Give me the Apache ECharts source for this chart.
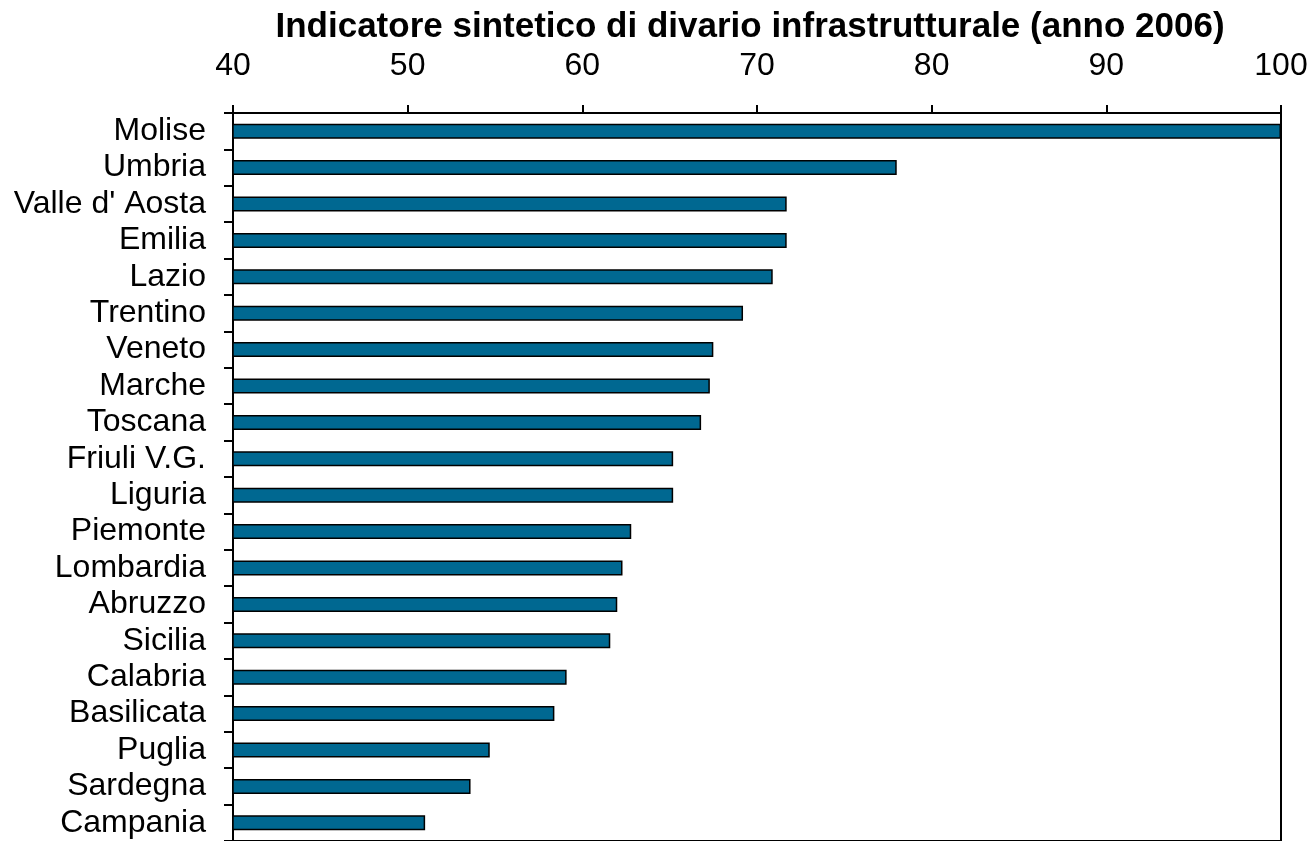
<!DOCTYPE html>
<html>
<head>
<meta charset="utf-8">
<script src="https://cdn.jsdelivr.net/npm/echarts@6/dist/echarts.min.js"></script>
<style>
  html, body { margin: 0; padding: 0; background: #ffffff; }
  #chart { width: 1314px; height: 841px; }
</style>
</head>
<body>
<div id="chart"></div>
<script>
// Regions, ordered from the highest to the lowest indicator value
const regions = [
  'Molise', 'Umbria', "Valle d' Aosta", 'Emilia', 'Lazio', 'Trentino', 'Veneto',
  'Marche', 'Toscana', 'Friuli V.G.', 'Liguria', 'Piemonte', 'Lombardia',
  'Abruzzo', 'Sicilia', 'Calabria', 'Basilicata', 'Puglia', 'Sardegna', 'Campania'
];

// Synthetic infrastructure gap indicator, year 2006
const indicator = [
  100.0, 78.0, 71.7, 71.7, 70.9, 69.2, 67.5,
  67.3, 66.8, 65.2, 65.2, 62.8, 62.3,
  62.0, 61.6, 59.1, 58.4, 54.7, 53.6, 51.0
];

// Value axis scale
const axisMin = 40;
const axisMax = 100;
const axisStep = 10;

const titleText = 'Indicatore sintetico di divario infrastrutturale (anno 2006)';

const fontFamily = '"Liberation Sans", Arial, Helvetica, sans-serif';
const chart = echarts.init(document.getElementById('chart'), null, { renderer: 'canvas' });

chart.setOption({
  backgroundColor: '#ffffff',
  animation: false,
  title: {
    text: titleText,
    left: 745,
    top: 5,
    textAlign: 'center',
    textStyle: {
      fontFamily: fontFamily,
      fontSize: 35,
      fontWeight: 'bold',
      color: '#000000'
    }
  },
  grid: {
    left: 233,
    right: 33,
    top: 113,
    bottom: -3,
    show: true,
    borderColor: '#000000',
    borderWidth: 2,
    containLabel: false
  },
  xAxis: {
    type: 'value',
    position: 'top',
    min: axisMin,
    max: axisMax,
    interval: axisStep,
    axisLine: { show: true, lineStyle: { color: '#000000', width: 2 } },
    axisTick: { show: true, inside: false, length: 8, lineStyle: { color: '#000000', width: 2 } },
    splitLine: { show: false },
    axisLabel: {
      margin: 31,
      fontFamily: fontFamily,
      fontSize: 32,
      color: '#000000'
    }
  },
  yAxis: {
    type: 'category',
    data: regions,
    inverse: true,
    axisLine: { show: true, lineStyle: { color: '#000000', width: 2 } },
    axisTick: { show: true, inside: false, length: 9, interval: 0, lineStyle: { color: '#000000', width: 2 } },
    axisLabel: {
      interval: 0,
      margin: 27,
      fontFamily: fontFamily,
      fontSize: 32,
      color: '#000000'
    }
  },
  series: [{
    type: 'bar',
    data: indicator,
    barWidth: 15,
    itemStyle: {
      color: '#006891',
      borderColor: '#000000',
      borderWidth: 1.5
    }
  }]
});
</script>
</body>
</html>
